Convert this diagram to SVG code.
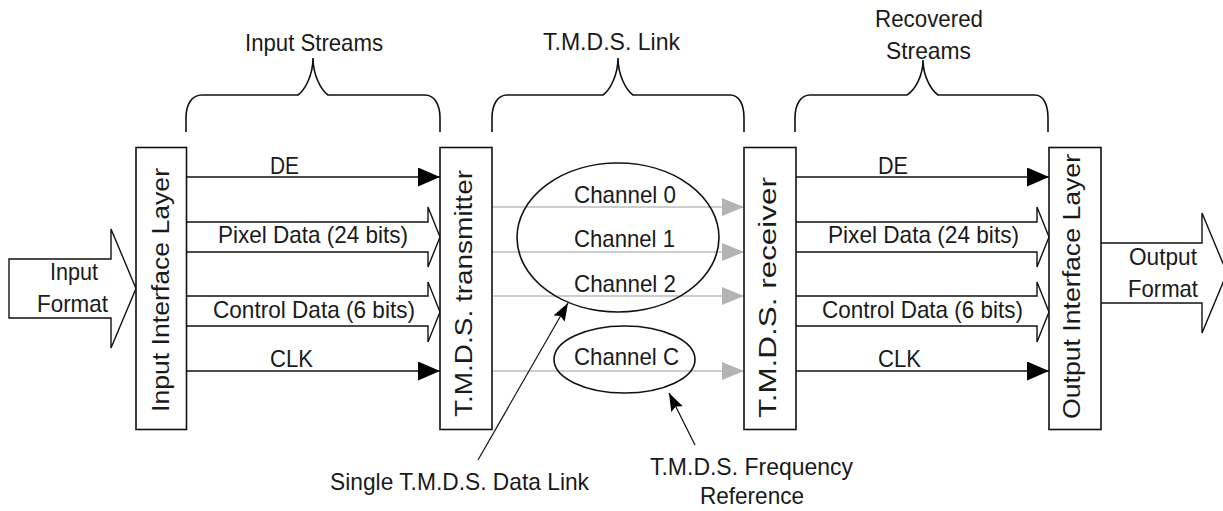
<svg xmlns="http://www.w3.org/2000/svg" width="1223" height="511" viewBox="0 0 1223 511">
  <style>
    text { font-family: "Liberation Sans", Arial, sans-serif; font-size: 24px; fill: #1a1a1a; }
    .vert { font-size: 23px; }
    .mid { text-anchor: middle; }
    .box { fill: #ffffff; stroke: #111111; stroke-width: 1.6; }
    .brace { fill: none; stroke: #111111; stroke-width: 1.6; }
    .sig { fill: none; stroke: #111111; stroke-width: 1.6; }
    .bus { fill: #ffffff; stroke: #111111; stroke-width: 1.4; stroke-linejoin: miter; }
    .chan { fill: none; stroke: #bdbdbd; stroke-width: 1.4; }
    .ring { fill: none; stroke: #111111; stroke-width: 1.6; }
    .ptr { fill: none; stroke: #111111; stroke-width: 1.2; }
  </style>
  <defs>
    <marker id="head" markerUnits="userSpaceOnUse" markerWidth="22" markerHeight="19" refX="22" refY="9.5" orient="auto">
      <path d="M0,0 L22,9.5 L0,19 Z" fill="#000000"/>
    </marker>
    <marker id="grayHead" markerUnits="userSpaceOnUse" markerWidth="22" markerHeight="18" refX="22" refY="9" orient="auto">
      <path d="M0,0 L22,9 L0,18 Z" fill="#b3b3b3"/>
    </marker>
    <marker id="ptrHead" markerUnits="userSpaceOnUse" markerWidth="18" markerHeight="13" refX="18" refY="6.5" orient="auto">
      <path d="M0,0 L18,6.5 L0,13 L3,6.5 Z" fill="#000000"/>
    </marker>
  </defs>

  <!-- group labels with their braces -->
  <g id="brace-input">
    <path class="brace" d="M186,132 V118 C186,104 192,95 202,95 H298 C305,90 313,75 313,58 C313,75 321,90 328,95 H425 C434,95 440,104 440,118 V132"/>
    <text class="mid" x="314" y="51" textLength="138" lengthAdjust="spacingAndGlyphs">Input Streams</text>
  </g>
  <g id="brace-link">
    <path class="brace" d="M492,132 V118 C492,104 498,95 507,95 H603 C610,90 618,75 618,58 C618,75 626,90 633,95 H730 C739,95 744,104 744,118 V132"/>
    <text class="mid" x="611.5" y="50" textLength="137" lengthAdjust="spacingAndGlyphs">T.M.D.S. Link</text>
  </g>
  <g id="brace-recovered">
    <path class="brace" d="M795,132 V118 C795,104 801,95 810,95 H907 C915,90 923,76 923,60 C923,76 931,90 938,95 H1035 C1043,95 1048,104 1048,118 V132"/>
    <text class="mid" x="929" y="27" textLength="108" lengthAdjust="spacingAndGlyphs">Recovered</text>
    <text class="mid" x="928.5" y="59" textLength="85" lengthAdjust="spacingAndGlyphs">Streams</text>
  </g>

  <!-- connectors -->
  <g id="connectors">
    <!-- input format -->
    <path class="bus" d="M9,259 H111 V229 L136,288.5 L111,348 V318 H9 Z"/>
    <!-- input streams -->
    <line class="sig" x1="186" y1="177" x2="440" y2="177" marker-end="url(#head)"/>
    <path class="bus" d="M186,222 H428 V207 L440,237 L428,267 V252 H186"/>
    <path class="bus" d="M186,296 H428 V282 L440,312 L428,342 V326 H186"/>
    <line class="sig" x1="186" y1="371" x2="440" y2="371" marker-end="url(#head)"/>
    <!-- link channels -->
    <line class="chan" x1="492" y1="207" x2="744" y2="207" marker-end="url(#grayHead)"/>
    <line class="chan" x1="492" y1="252" x2="744" y2="252" marker-end="url(#grayHead)"/>
    <line class="chan" x1="492" y1="296" x2="744" y2="296" marker-end="url(#grayHead)"/>
    <line class="chan" x1="492" y1="371" x2="744" y2="371" marker-end="url(#grayHead)"/>
    <!-- recovered streams -->
    <line class="sig" x1="796" y1="177" x2="1049" y2="177" marker-end="url(#head)"/>
    <path class="bus" d="M796,222 H1037 V207 L1049,237 L1037,267 V252 H796"/>
    <path class="bus" d="M796,296 H1037 V282 L1049,312 L1037,342 V326 H796"/>
    <line class="sig" x1="796" y1="371" x2="1049" y2="371" marker-end="url(#head)"/>
    <!-- output format -->
    <path class="bus" d="M1101,243 H1202 V213 L1227,273 L1202,333 V303 H1101"/>
    <!-- callouts -->
    <line class="ptr" x1="478" y1="460" x2="568" y2="303" marker-end="url(#ptrHead)"/>
    <line class="ptr" x1="695" y1="445" x2="669" y2="393" marker-end="url(#ptrHead)"/>
  </g>

  <!-- signal labels -->
  <g id="labels-input">
    <text class="mid" x="74" y="280" textLength="48" lengthAdjust="spacingAndGlyphs">Input</text>
    <text class="mid" x="72.5" y="312" textLength="71" lengthAdjust="spacingAndGlyphs">Format</text>
    <text class="mid" x="284.5" y="174" textLength="29" lengthAdjust="spacingAndGlyphs">DE</text>
    <text class="mid" x="313" y="243" textLength="190" lengthAdjust="spacingAndGlyphs">Pixel Data (24 bits)</text>
    <text class="mid" x="314" y="318" textLength="202" lengthAdjust="spacingAndGlyphs">Control Data (6 bits)</text>
    <text class="mid" x="291.5" y="367" textLength="43" lengthAdjust="spacingAndGlyphs">CLK</text>
  </g>
  <g id="labels-output">
    <text class="mid" x="893" y="174" textLength="30" lengthAdjust="spacingAndGlyphs">DE</text>
    <text class="mid" x="923.5" y="243" textLength="191" lengthAdjust="spacingAndGlyphs">Pixel Data (24 bits)</text>
    <text class="mid" x="922.5" y="318" textLength="201" lengthAdjust="spacingAndGlyphs">Control Data (6 bits)</text>
    <text class="mid" x="899.5" y="367" textLength="43" lengthAdjust="spacingAndGlyphs">CLK</text>
    <text class="mid" x="1163" y="265" textLength="68" lengthAdjust="spacingAndGlyphs">Output</text>
    <text class="mid" x="1163" y="297" textLength="70" lengthAdjust="spacingAndGlyphs">Format</text>
  </g>

  <!-- layer blocks -->
  <g id="input-interface-layer">
    <rect class="box" x="136" y="147.5" width="50.5" height="282"/>
    <text class="vert" transform="translate(169,412) rotate(-90)" textLength="244" lengthAdjust="spacingAndGlyphs">Input Interface Layer</text>
  </g>
  <g id="tmds-transmitter">
    <rect class="box" x="440" y="147.5" width="52" height="282"/>
    <text class="vert" transform="translate(472,417) rotate(-90)" textLength="247" lengthAdjust="spacingAndGlyphs">T.M.D.S. transmitter</text>
  </g>
  <g id="tmds-receiver">
    <rect class="box" x="744" y="147.5" width="52" height="282"/>
    <text class="vert" transform="translate(776,418) rotate(-90)" textLength="241" lengthAdjust="spacingAndGlyphs">T.M.D.S. receiver</text>
  </g>
  <g id="output-interface-layer">
    <rect class="box" x="1049" y="147.5" width="52" height="282"/>
    <text class="vert" transform="translate(1080,419) rotate(-90)" textLength="265" lengthAdjust="spacingAndGlyphs">Output Interface Layer</text>
  </g>

  <!-- link channel groups -->
  <g id="data-channels">
    <ellipse class="ring" cx="618" cy="237.5" rx="101" ry="74.5"/>
    <text class="mid" x="625" y="203" textLength="102" lengthAdjust="spacingAndGlyphs">Channel 0</text>
    <text class="mid" x="624.5" y="247" textLength="101" lengthAdjust="spacingAndGlyphs">Channel 1</text>
    <text class="mid" x="625" y="292" textLength="102" lengthAdjust="spacingAndGlyphs">Channel 2</text>
  </g>
  <g id="clock-channel">
    <ellipse class="ring" cx="624.5" cy="359.5" rx="70.5" ry="33.5"/>
    <text class="mid" x="626.5" y="365" textLength="105" lengthAdjust="spacingAndGlyphs">Channel C</text>
  </g>

  <!-- callout captions -->
  <g id="caption-data-link">
    <text class="mid" x="459.5" y="490" textLength="259" lengthAdjust="spacingAndGlyphs">Single T.M.D.S. Data Link</text>
  </g>
  <g id="caption-frequency-ref">
    <text class="mid" x="751.5" y="475" textLength="203" lengthAdjust="spacingAndGlyphs">T.M.D.S. Frequency</text>
    <text class="mid" x="752" y="504" textLength="104" lengthAdjust="spacingAndGlyphs">Reference</text>
  </g>
</svg>
